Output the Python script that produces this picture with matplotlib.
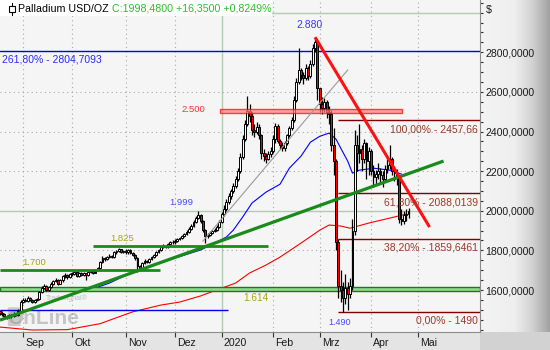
import matplotlib.pyplot as plt
import numpy as np
from matplotlib.colors import LinearSegmentedColormap
from matplotlib.patches import Rectangle, FancyBboxPatch
from matplotlib.lines import Line2D
from matplotlib.transforms import blended_transform_factory

plt.rcParams['font.family'] = ['Liberation Sans', 'DejaVu Sans']

# daily candles, trading days 19.08.2019 - 27.04.2020 (open = previous close)
first_open = 1492
close_aug = [1485, 1478, 1470, 1462, 1472, 1468, 1480, 1476, 1495, 1540]
high_aug = [1500, 1492, 1484, 1476, 1480, 1478, 1488, 1486, 1502, 1548]
low_aug = [1476, 1470, 1462, 1452, 1458, 1460, 1462, 1468, 1470, 1490]

close_sep = [1550, 1545, 1560, 1552, 1540, 1548, 1556, 1590, 1612, 1620, 1600,
             1615, 1630, 1645, 1650, 1632, 1648, 1670, 1678, 1665, 1680]
high_sep = [1560, 1558, 1568, 1564, 1556, 1555, 1562, 1596, 1620, 1628, 1624,
            1622, 1638, 1652, 1660, 1655, 1654, 1676, 1686, 1682, 1688]
low_sep = [1536, 1538, 1540, 1546, 1532, 1536, 1544, 1550, 1585, 1605, 1594,
           1596, 1608, 1624, 1638, 1626, 1628, 1642, 1662, 1658, 1660]

close_okt = [1682, 1690, 1672, 1686, 1678, 1684, 1675, 1690, 1694, 1688, 1700, 1712,
             1740, 1762, 1758, 1766, 1772, 1768, 1790, 1796, 1805, 1792, 1798]
high_okt = [1692, 1698, 1694, 1692, 1690, 1690, 1688, 1698, 1702, 1698, 1706, 1718,
            1745, 1770, 1768, 1772, 1780, 1778, 1796, 1804, 1812, 1808, 1804]
low_okt = [1672, 1676, 1664, 1668, 1672, 1672, 1650, 1670, 1684, 1680, 1684, 1696,
           1708, 1736, 1748, 1752, 1760, 1760, 1764, 1784, 1790, 1786, 1786]

close_nov = [1790, 1800, 1785, 1778, 1760, 1720, 1712, 1735, 1748, 1742, 1755,
             1768, 1778, 1790, 1800, 1815, 1822, 1818, 1832, 1842, 1840]
high_nov = [1806, 1808, 1806, 1792, 1784, 1766, 1728, 1740, 1754, 1752, 1760,
            1774, 1784, 1796, 1806, 1820, 1830, 1828, 1838, 1848, 1850]
low_nov = [1782, 1784, 1780, 1770, 1752, 1690, 1700, 1706, 1730, 1736, 1738,
           1750, 1762, 1772, 1786, 1796, 1810, 1810, 1814, 1826, 1832]

close_dez = [1848, 1856, 1862, 1872, 1885, 1895, 1910, 1925, 1945, 1962,
             1978, 1950, 1905, 1872, 1880, 1890, 1898, 1905, 1920, 1945]
high_dez = [1855, 1862, 1868, 1878, 1890, 1902, 1916, 1932, 1952, 1975,
            1999, 1982, 1955, 1910, 1888, 1896, 1904, 1912, 1928, 1952]
low_dez = [1834, 1842, 1850, 1856, 1866, 1880, 1890, 1905, 1920, 1940,
           1956, 1940, 1895, 1838, 1862, 1872, 1884, 1892, 1900, 1915]

close_jan = [1985, 2010, 2045, 2075, 2100, 2125, 2160, 2200, 2270, 2360, 2440,
             2505, 2480, 2410, 2400, 2425, 2380, 2290, 2275, 2262, 2285, 2300]
high_jan = [1992, 2030, 2058, 2090, 2112, 2140, 2175, 2215, 2290, 2380, 2460,
            2580, 2540, 2500, 2440, 2450, 2440, 2390, 2310, 2290, 2300, 2320]
low_jan = [1940, 1975, 2000, 2035, 2060, 2090, 2115, 2150, 2190, 2260, 2350,
           2430, 2450, 2380, 2370, 2390, 2360, 2260, 2250, 2240, 2255, 2270]

close_feb = [2360, 2430, 2350, 2330, 2315, 2340, 2380, 2420, 2460, 2560,
             2650, 2710, 2685, 2670, 2720, 2680, 2740, 2820, 2850, 2620]
high_feb = [2380, 2445, 2440, 2360, 2345, 2350, 2390, 2430, 2475, 2580,
            2670, 2820, 2720, 2700, 2740, 2730, 2760, 2840, 2876, 2855]
low_feb = [2290, 2340, 2340, 2310, 2300, 2300, 2330, 2370, 2410, 2450,
           2550, 2640, 2660, 2640, 2660, 2660, 2670, 2730, 2800, 2560]

close_mrz = [2540, 2520, 2550, 2500, 2490, 2330, 2250, 1840, 1620, 1600, 1560,
             1610, 1580, 1620, 1900, 2330, 2290, 2310, 2260, 2340, 2250, 2300]
high_mrz = [2580, 2575, 2570, 2560, 2530, 2510, 2420, 2260, 1860, 1700, 1640,
            1680, 1640, 1660, 1960, 2410, 2380, 2440, 2330, 2360, 2345, 2320]
low_mrz = [2500, 2490, 2500, 2470, 2440, 2300, 2180, 1800, 1560, 1540, 1490,
           1530, 1500, 1560, 1600, 1880, 2200, 2240, 2200, 2240, 2160, 2180]

close_apr = [2200, 2170, 2185, 2200, 2180, 2160, 2210, 2230, 2260, 2200, 2190,
             2170, 1960, 1950, 1980, 1982, 1998.48]
high_apr = [2310, 2230, 2205, 2240, 2215, 2200, 2230, 2260, 2330, 2270, 2225,
            2210, 2180, 2010, 2000, 2010, 2012]
low_apr = [2180, 2120, 2130, 2160, 2140, 2120, 2150, 2190, 2210, 2180, 2150,
           2130, 1940, 1928, 1935, 1950, 1962]

# trading days per month (Aug partial) and axis labels
month_days = [10, 21, 23, 21, 20, 22, 20, 22, 20]
month_labels = ['Sep', 'Okt', 'Nov', 'Dez', '2020', 'Feb', 'Mrz', 'Apr', 'Mai']

# moving averages (day index, value)
blue_ma_x = [41, 47, 57, 64, 75, 86, 92, 97, 100, 104, 108, 114, 120, 124, 129,
             133, 137, 141, 144, 146, 149, 151, 154, 160, 167, 172]
blue_ma_y = [1610, 1635, 1691, 1716, 1761, 1802, 1837, 1867, 1902, 1968, 2039, 2094,
             2134, 2215, 2276, 2346, 2376, 2392, 2361, 2316, 2250, 2190, 2205, 2215,
             2205, 2185]
red_ma_x = [0, 14, 29, 43, 57, 69, 77, 86, 94, 101, 107, 114, 120, 129, 137, 141,
            146, 150, 158, 167, 174]
red_ma_y = [1413, 1398, 1400, 1430, 1490, 1524, 1539, 1570, 1605, 1635, 1686, 1726,
            1766, 1837, 1902, 1928, 1923, 1912, 1938, 1963, 1983]

# drawn levels / lines
fib_levels = [2457.66, 2088.0139, 1859.6461, 1490]
fib_labels = ['100,00% - 2457,66', '61,80% - 2088,0139', '38,20% - 1859,6461', '0,00% - 1490']
fib_start = 145
ext_level = 2804.7093
up_trend = ([0.15, 190], [1448, 2251])
down_trend = ([135, 184], [2876, 1918])
gray_line = ([87, 149], [1847, 2711])

close = np.array(close_aug + close_sep + close_okt + close_nov + close_dez +
                 close_jan + close_feb + close_mrz + close_apr, dtype=float)
high = np.array(high_aug + high_sep + high_okt + high_nov + high_dez +
                high_jan + high_feb + high_mrz + high_apr, dtype=float)
low = np.array(low_aug + low_sep + low_okt + low_nov + low_dez +
               low_jan + low_feb + low_mrz + low_apr, dtype=float)
opn = np.r_[first_open, close[:-1]]
high = np.maximum(high, np.maximum(opn, close))
low = np.minimum(low, np.minimum(opn, close))
x = np.arange(len(close))

fig = plt.figure(figsize=(5.5, 3.5), dpi=100)
W, H = 550, 350

# right price panel gradient + bottom band
cm = LinearSegmentedColormap.from_list('panel', [(0, '#f4f4f4'), (0.5, '#eeeeee'),
                                                  (0.75, '#d2d2d2'), (1, '#a2a2a2')])
pax = fig.add_axes([480 / W, 18 / H, 70 / W, 332 / H], zorder=-2)
pax.imshow(np.linspace(0, 1, 100)[None, :], aspect='auto', cmap=cm, extent=[0, 1, 0, 1])
pax.set_axis_off()
bax = fig.add_axes([0, 0, 480 / W, 18 / H], zorder=-2)
bax.set_facecolor('#e4e4e4')
bax.set_xticks([]); bax.set_yticks([])
for s in bax.spines.values():
    s.set_visible(False)
cax = fig.add_axes([480 / W, 0, 70 / W, 18 / H], zorder=-2)
cax.set_facecolor('#d2d2d2')
cax.set_xticks([]); cax.set_yticks([])
for s in cax.spines.values():
    s.set_visible(False)

ax = fig.add_axes([0, 18 / H, 480 / W, 332 / H])
ax.set_facecolor('#f4f5f4')
ax.set_xlim(0.15, 205.6)
ax.set_ylim(1388, 3064)

month_pos = np.cumsum(month_days)
dot = (0, (1, 3))
for p, lab in zip(month_pos, month_labels):
    if lab == '2020':
        ax.axvline(p, color='#b4cab4', lw=1, zorder=1)
    else:
        ax.axvline(p, color='#a8a8a8', lw=0.8, ls=dot, zorder=1)
for v in [1600, 1800, 2200, 2400, 2600]:
    ax.axhline(v, color='#a8a8a8', lw=0.8, ls=dot, zorder=1)
for v in [2000, 3000]:
    ax.axhline(v, color='#b4cab4', lw=1, zorder=1)

# watermark
ax.add_patch(FancyBboxPatch((3.5, 1418), 5.5, 95, boxstyle='round,pad=0,rounding_size=2',
                            facecolor='#8c8c8c', edgecolor='none', alpha=0.4, zorder=1))
ax.text(3.0, 1455, 'OnLine', fontsize=15, fontweight='bold', color='#8c8c8c',
        alpha=0.45, va='center', zorder=1)
ax.text(20.0, 1560, 'Tradesignal\u00ae', fontsize=5, color='#8c8c8c', alpha=0.55,
        va='center', zorder=1)

# moving averages
ax.plot(red_ma_x, red_ma_y, color='#ff0000', lw=0.8, zorder=2)
ax.plot(blue_ma_x, blue_ma_y, color='#0000ff', lw=0.8, zorder=2)

# horizontal support / resistance
ax.axhline(ext_level, color='#0000ee', lw=1, zorder=2)
ax.hlines(1497, 0, 97.6, color='#0000ee', lw=1, zorder=2)
ax.axhspan(1595, 1617, facecolor='#93d893', edgecolor='#1a7a1a', lw=1, zorder=2)
ax.hlines(1823, 40, 114.7, color='#1a8a1a', lw=2, zorder=4)
ax.hlines(1700, 0, 68.6, color='#1a8a1a', lw=2, zorder=4)
ax.add_patch(Rectangle((94.3, 2495), 172.2 - 94.3, 20, facecolor='#ff8080', alpha=0.7,
                       edgecolor='#ff0000', lw=1, zorder=4))

# fibonacci retracement
for lv, lab in zip(fib_levels, fib_labels):
    ax.hlines(lv, fib_start, 205.6, color='#800000', lw=1, zorder=2)
    ax.text(204.7, lv - 46, lab, ha='right', va='center', fontsize=7.5,
            color='#9b3a2a', zorder=5)

# candles
ax.vlines(x, low, high, color='black', lw=0.9, zorder=3)
body_h = np.maximum(np.abs(close - opn), 4)
cols = np.where(close >= opn, 'white', '#ff0000')
ax.bar(x, body_h, bottom=np.minimum(opn, close), width=0.8, color=cols,
       edgecolor='black', linewidth=0.7, zorder=3)

# trend lines
ax.plot(*gray_line, color='#9a9a9a', lw=0.8, zorder=4)
ax.plot(*up_trend, color='#1a8a1a', lw=2.3, zorder=4, solid_capstyle='butt')
ax.plot(*down_trend, color='#ff1010', lw=2.2, zorder=4, solid_capstyle='butt')

# labels
ax.text(1.0, 2762, '261,80% - 2804,7093', color='#2a2aff', fontsize=7.5, va='center', zorder=5)
ax.text(132.6, 2938, '2.880', color='#3a3aff', fontsize=7.5, ha='center', va='center', zorder=5)
ax.text(87.9, 2509, '2.500', color='#ff3030', fontsize=6.8, ha='right', va='center', zorder=5)
ax.text(77.6, 2044, '1.999', color='#4a4aff', fontsize=6.8, ha='center', va='center', zorder=5)
ax.text(52.4, 1862, '1.825', color='#a2a61c', fontsize=6.8, ha='center', va='center', zorder=5)
ax.text(14.7, 1741, '1.700', color='#a2a61c', fontsize=6.8, ha='center', va='center', zorder=5)
ax.text(109.7, 1559, '1.614', color='#a2a61c', fontsize=7.2, ha='center', va='center', zorder=5)
ax.text(145.5, 1438, '1.490', color='#4a4aff', fontsize=6.5, ha='center', va='center', zorder=5)

# axes styling
for side in ['top', 'left']:
    ax.spines[side].set_visible(False)
ax.spines['right'].set_color('#8c8c8c')
ax.spines['bottom'].set_color('#8c8c8c')
ax.yaxis.tick_right()
yt = np.arange(1600, 2801, 200)
ax.set_yticks(yt)
ax.set_yticklabels([f'{v:.4f}'.replace('.', ',') for v in yt])
ax.set_yticks(np.arange(1400, 3051, 50), minor=True)
ax.tick_params(axis='y', which='both', direction='out', length=2.5, width=0.8,
               color='#333333', labelsize=7.6, labelcolor='#1a1a1a', pad=1.5)
ax.set_xticks(month_pos)
ax.set_xticklabels([])
ax.tick_params(axis='x', direction='out', length=3.5, width=0.8, color='#333333')
tr = blended_transform_factory(ax.transData, ax.transAxes)
for p, lab in zip(month_pos, month_labels):
    ax.text(p + 0.9, -0.032, lab, transform=tr, fontsize=7.6, color='#1a1a1a',
            ha='left', va='center', clip_on=False)

# header
fig.add_artist(Rectangle((0, 1 - 16 / H), 272 / W, 16 / H, transform=fig.transFigure,
                         facecolor='white', edgecolor='none', zorder=5))
fig.add_artist(Line2D([11.5 / W, 11.5 / W], [1 - 3 / H, 1 - 15 / H], color='black',
                      lw=0.8, transform=fig.transFigure, zorder=6))
fig.add_artist(Rectangle((8.5 / W, 1 - 12 / H), 6 / W, 6 / H, transform=fig.transFigure,
                         facecolor='white', edgecolor='black', lw=0.8, zorder=7))
fig.text(18 / W, 1 - 8.5 / H, 'Palladium USD/OZ', fontsize=7.7, color='black',
         va='center', zorder=8)
fig.text(112 / W, 1 - 8.5 / H, 'C:1998,4800 +16,3500 +0,8249%', fontsize=7.7,
         color='#2dbd2d', va='center', zorder=8)
fig.text(486 / W, 1 - 10 / H, '$', fontsize=7.7, color='#1a1a1a', va='center')

fig.savefig('out.png', dpi=100)
